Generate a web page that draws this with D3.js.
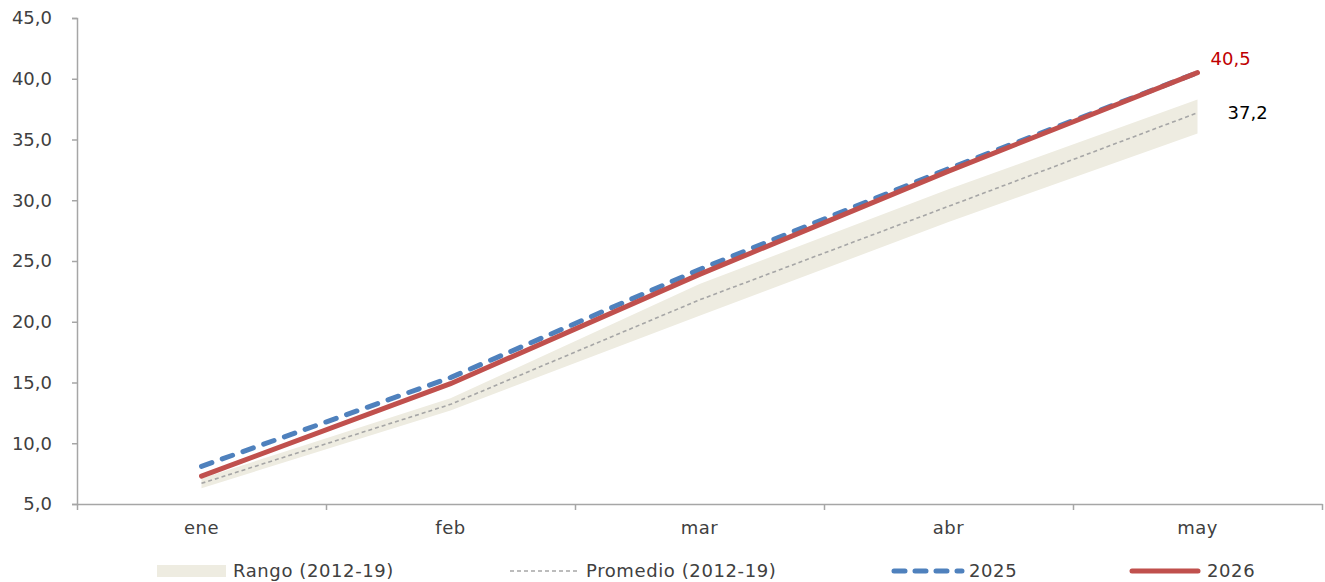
<!DOCTYPE html>
<html>
<head>
<meta charset="utf-8">
<script src="https://cdn.jsdelivr.net/npm/d3@7/dist/d3.min.js"></script>
<style>
  html, body { margin: 0; padding: 0; background: #ffffff; }
  svg { display: block; font-family: "DejaVu Sans", Verdana, sans-serif; }
</style>
</head>
<body>
<svg id="chart" width="1325" height="582"></svg>
<script>
// ---- data ----
const categories = ["ene", "feb", "mar", "abr", "may"];
const rangoMin   = [6.3, 12.7, 20.5, 28.2, 35.5];
const rangoMax   = [7.1, 13.7, 23.1, 30.9, 38.3];
const promedio   = [6.7, 13.2, 21.8, 29.5, 37.2];
const serie2025  = [8.1, 15.4, 24.3, 32.6, 40.5];
const serie2026  = [7.3, 14.9, 23.9, 32.4, 40.5];
const yTicks     = [5, 10, 15, 20, 25, 30, 35, 40, 45];
const legendLabels = ["Rango (2012-19)", "Promedio (2012-19)", "2025", "2026"];
const endLabel2026 = "40,5";
const endLabelProm = "37,2";

// ---- layout ----
const svg = d3.select("#chart");
const mLeft = 77, mRight = 1322, mTop = 18, mBottom = 504;
const fontSize = 18;
const axisColor = "#a6a6a6";
const textColor = "#404040";

const locale = d3.formatLocale({decimal: ",", thousands: ".", grouping: [3], currency: ["", "€"]});
const fmt = locale.format(".1f");

const x = d3.scaleBand().domain(categories).range([mLeft, mRight]).padding(0);
const cx = d => x(d) + x.bandwidth() / 2;
const xEdges = d3.scaleLinear().domain([0, categories.length]).range([mLeft, mRight]);
const y = d3.scaleLinear().domain([5, 45]).range([mBottom, mTop]);

// y axis
const yAxis = svg.append("g")
  .attr("transform", `translate(${mLeft},0)`)
  .call(d3.axisLeft(y).tickValues(yTicks).tickFormat(fmt).tickSizeOuter(0).tickSize(5).tickPadding(20));
yAxis.select(".domain").attr("stroke", axisColor).attr("stroke-width", 1.5);
yAxis.selectAll(".tick line").attr("stroke", axisColor).attr("stroke-width", 1.5);
yAxis.selectAll(".tick text").attr("fill", textColor).style("font-size", fontSize + "px")
  .style("font-family", "'DejaVu Sans', Verdana, sans-serif");

// x axis: tick marks at band edges
const xTickAxis = svg.append("g")
  .attr("transform", `translate(0,${mBottom})`)
  .call(d3.axisBottom(xEdges).tickValues(d3.range(0, categories.length + 1)).tickFormat("").tickSize(6).tickSizeOuter(0));
xTickAxis.select(".domain").attr("stroke", axisColor).attr("stroke-width", 1.5);
xTickAxis.selectAll(".tick line").attr("stroke", axisColor).attr("stroke-width", 1.5);

// x axis labels
const xLabelAxis = svg.append("g")
  .attr("transform", `translate(0,${mBottom})`)
  .call(d3.axisBottom(x).tickSize(0).tickPadding(17));
xLabelAxis.select(".domain").remove();
xLabelAxis.selectAll(".tick text").attr("fill", textColor).style("font-size", fontSize + "px")
  .style("letter-spacing", "0.5px")
  .style("font-family", "'DejaVu Sans', Verdana, sans-serif");

// ---- marks ----
const idx = categories.map((c, i) => i);

const area = d3.area()
  .x(i => cx(categories[i]))
  .y0(i => y(rangoMin[i]))
  .y1(i => y(rangoMax[i]));
svg.append("path").datum(idx).attr("d", area).attr("fill", "#eeece1");

const lineOf = arr => d3.line().x(i => cx(categories[i])).y(i => y(arr[i]));

svg.append("path").datum(idx).attr("d", lineOf(promedio))
  .attr("fill", "none").attr("stroke", "#a6a6a6").attr("stroke-width", 1.6)
  .attr("stroke-dasharray", "4,3");

svg.append("path").datum(idx).attr("d", lineOf(serie2025))
  .attr("fill", "none").attr("stroke", "#4f81bd").attr("stroke-width", 5)
  .attr("stroke-linecap", "round").attr("stroke-dasharray", "11,11");

svg.append("path").datum(idx).attr("d", lineOf(serie2026))
  .attr("fill", "none").attr("stroke", "#c0504d").attr("stroke-width", 5)
  .attr("stroke-linecap", "round");

// end labels
const last = categories.length - 1;
svg.append("text")
  .attr("x", cx(categories[last]) + 13).attr("y", y(serie2026[last]) - 14)
  .attr("dy", "0.35em").attr("fill", "#c00000").style("font-size", fontSize + "px")
  .text(endLabel2026);
svg.append("text")
  .attr("x", cx(categories[last]) + 30).attr("y", y(promedio[last]))
  .attr("dy", "0.35em").attr("fill", "#000000").style("font-size", fontSize + "px")
  .text(endLabelProm);

// ---- legend ----
const legY = 571;
const leg = svg.append("g").style("letter-spacing", "0.6px");
// Rango
leg.append("rect").attr("x", 157).attr("y", legY - 6).attr("width", 69).attr("height", 12).attr("fill", "#eeece1");
leg.append("text").attr("x", 233).attr("y", legY).attr("dy", "0.35em").attr("fill", textColor)
  .style("font-size", fontSize + "px").text(legendLabels[0]);
// Promedio
leg.append("line").attr("x1", 510).attr("x2", 580).attr("y1", legY).attr("y2", legY)
  .attr("stroke", "#a6a6a6").attr("stroke-width", 1.6).attr("stroke-dasharray", "4,3");
leg.append("text").attr("x", 586).attr("y", legY).attr("dy", "0.35em").attr("fill", textColor)
  .style("font-size", fontSize + "px").text(legendLabels[1]);
// 2025
leg.append("line").attr("x1", 894).attr("x2", 962).attr("y1", legY).attr("y2", legY)
  .attr("stroke", "#4f81bd").attr("stroke-width", 5).attr("stroke-linecap", "round")
  .attr("stroke-dasharray", "11,10");
leg.append("text").attr("x", 969).attr("y", legY).attr("dy", "0.35em").attr("fill", textColor)
  .style("font-size", fontSize + "px").text(legendLabels[2]);
// 2026
leg.append("line").attr("x1", 1132).attr("x2", 1198).attr("y1", legY).attr("y2", legY)
  .attr("stroke", "#c0504d").attr("stroke-width", 5).attr("stroke-linecap", "round");
leg.append("text").attr("x", 1207).attr("y", legY).attr("dy", "0.35em").attr("fill", textColor)
  .style("font-size", fontSize + "px").text(legendLabels[3]);
</script>
</body>
</html>
